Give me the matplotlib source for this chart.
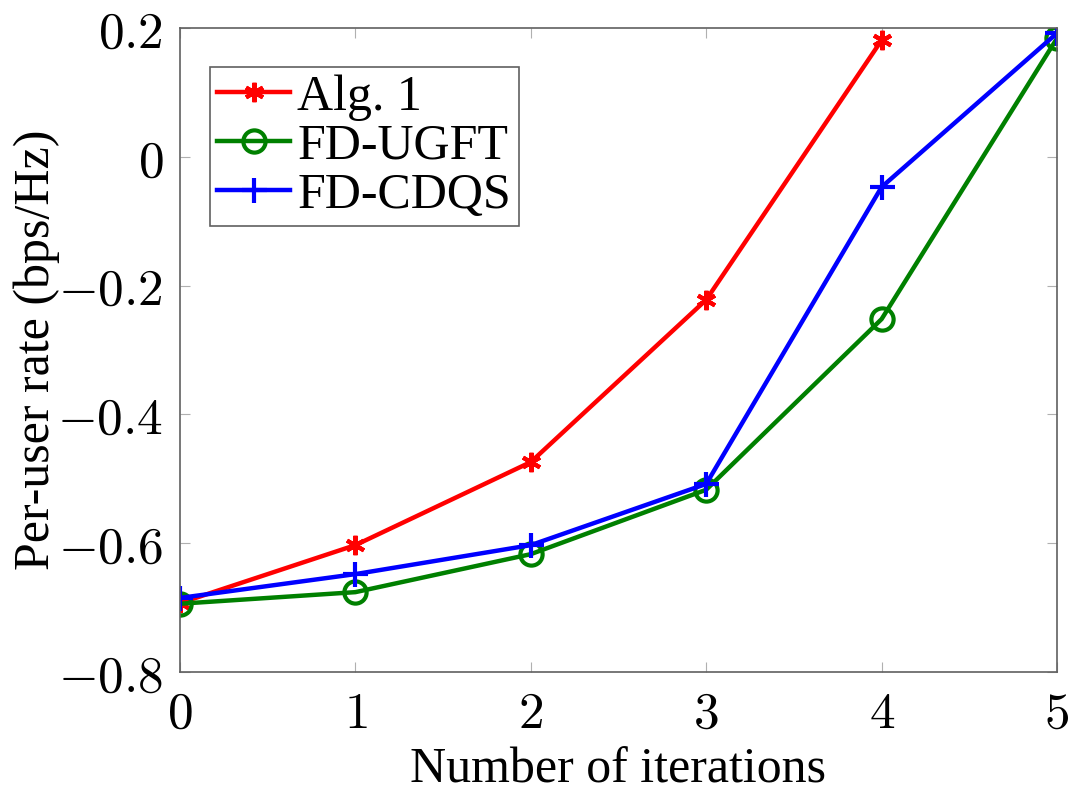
import matplotlib.pyplot as plt

plt.rcParams['mathtext.fontset'] = 'cm'
plt.rcParams['axes.formatter.use_mathtext'] = True

iters_alg1 = [0, 1, 2, 3, 4]
iters = [0, 1, 2, 3, 4, 5]
alg1 = [-0.693, -0.603, -0.474, -0.222, 0.181]
ugft = [-0.694, -0.676, -0.617, -0.517, -0.252, 0.184]
cdqs = [-0.685, -0.648, -0.603, -0.508, -0.047, 0.192]

fig = plt.figure(figsize=(10.78, 7.94), dpi=100)
ax = fig.add_axes([180 / 1078, 1 - 672 / 794, 877 / 1078, 644 / 794])

ax.plot(iters_alg1, alg1, color='red', lw=3.2, marker=(6, 2, 0), ms=14, mew=3,
        label='Alg. 1')
ax.plot(iters, ugft, color='green', lw=3.2, marker='o', ms=16, mew=3,
        mfc='none', label='FD-UGFT')
ax.plot(iters, cdqs, color='blue', lw=3.2, marker='+', ms=18, mew=3,
        label='FD-CDQS')

ax.set_xlim(0, 5)
ax.set_ylim(-0.8, 0.2)
ax.set_xticks([0, 1, 2, 3, 4, 5])
ax.set_yticks([-0.8, -0.6, -0.4, -0.2, 0, 0.2])
ax.set_yticklabels([r'$-0.8$', r'$-0.6$', r'$-0.4$', r'$-0.2$', r'$0$', r'$0.2$'])
ax.set_xticklabels([r'$%d$' % i for i in iters])
ax.tick_params(direction='in', top=True, right=True, labelsize=37,
               length=7, color='#b0b0b0', pad=12)
for s in ax.spines.values():
    s.set_color('#606060')
    s.set_linewidth(1.2)

serif = ['Liberation Serif', 'DejaVu Serif']
ax.set_xlabel('Number of iterations', fontsize=36, family=serif, labelpad=6)
ax.set_ylabel('Per-user rate (bps/Hz)', fontsize=36, family=serif, labelpad=-2)

leg = ax.legend(loc='upper left', bbox_to_anchor=(0.034, 0.94),
                prop={'family': serif, 'size': 36}, fancybox=False,
                framealpha=1, edgecolor='#606060', borderpad=0.15,
                labelspacing=0.05, handlelength=1.45, handletextpad=0.15,
                borderaxespad=0)
leg.get_frame().set_linewidth(1.2)

fig.savefig('out.png', dpi=100)
